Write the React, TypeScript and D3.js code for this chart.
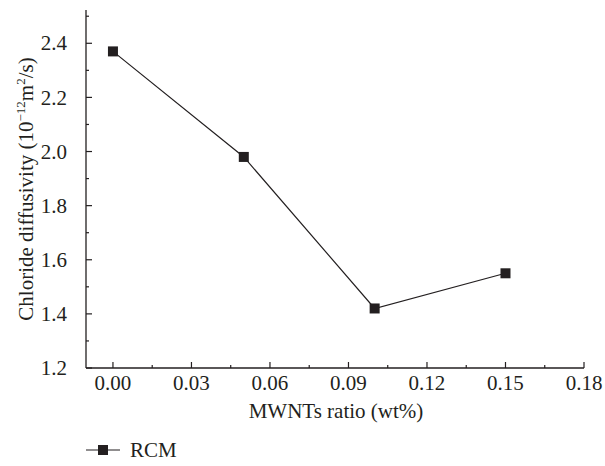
import React, { useEffect, useRef } from 'react';
import * as d3 from 'd3';

const ratios = [0.0, 0.05, 0.1, 0.15];
const diffusivity = [2.37, 1.98, 1.42, 1.55];
const xTicks = [0, 0.03, 0.06, 0.09, 0.12, 0.15, 0.18];
const yTicks = [1.2, 1.4, 1.6, 1.8, 2.0, 2.2, 2.4];
const seriesName = 'RCM';

const ink = '#231f20';
const font = '"Liberation Serif", "DejaVu Serif", serif';
const fs = 21;

function App() {
  const svgRef = useRef<SVGSVGElement>(null);

  useEffect(() => {
    const width = 605;
    const height = 466;
    const margin = { left: 86, top: 10, right: 21, bottom: 98 };

    const svg = d3.select(svgRef.current)
      .attr('width', width)
      .attr('height', height)
      .style('font-family', font);

    const x = d3.scaleLinear()
      .domain([-0.0103, 0.18])
      .range([margin.left, width - margin.right]);
    const y = d3.scaleLinear()
      .domain([1.2, 2.523])
      .range([height - margin.bottom, margin.top]);

    const bottom = height - margin.bottom;

    // axes lines
    svg.append('line')
      .attr('x1', margin.left).attr('x2', width - margin.right)
      .attr('y1', bottom).attr('y2', bottom)
      .attr('stroke', ink).attr('stroke-width', 1.3);
    svg.append('line')
      .attr('x1', margin.left).attr('x2', margin.left)
      .attr('y1', margin.top).attr('y2', bottom)
      .attr('stroke', ink).attr('stroke-width', 1.3);

    // x ticks (inward), plus minor ones
    const xMinor = xTicks.slice(0, -1).map(t => t + 0.015);
    svg.append('g').selectAll('line')
      .data(xTicks)
      .join('line')
      .attr('x1', d => x(d)).attr('x2', d => x(d))
      .attr('y1', bottom).attr('y2', bottom - 6)
      .attr('stroke', ink).attr('stroke-width', 1.2);
    svg.append('g').selectAll('line')
      .data(xMinor)
      .join('line')
      .attr('x1', d => x(d)).attr('x2', d => x(d))
      .attr('y1', bottom).attr('y2', bottom - 3)
      .attr('stroke', ink).attr('stroke-width', 1.2);
    svg.append('g').selectAll('text')
      .data(xTicks)
      .join('text')
      .attr('x', d => x(d))
      .attr('y', bottom + 22)
      .attr('text-anchor', 'middle')
      .attr('font-size', fs)
      .attr('fill', ink)
      .text(d => d3.format('.2f')(d));

    // y ticks
    const yMinor = yTicks.map(t => t + 0.1);
    svg.append('g').selectAll('line')
      .data(yTicks)
      .join('line')
      .attr('y1', d => y(d)).attr('y2', d => y(d))
      .attr('x1', margin.left).attr('x2', margin.left + 6)
      .attr('stroke', ink).attr('stroke-width', 1.2);
    svg.append('g').selectAll('line')
      .data(yMinor)
      .join('line')
      .attr('y1', d => y(d)).attr('y2', d => y(d))
      .attr('x1', margin.left).attr('x2', margin.left + 3)
      .attr('stroke', ink).attr('stroke-width', 1.2);
    svg.append('g').selectAll('text')
      .data(yTicks)
      .join('text')
      .attr('x', margin.left - 19)
      .attr('y', d => y(d))
      .attr('dy', '0.34em')
      .attr('text-anchor', 'end')
      .attr('font-size', fs)
      .attr('fill', ink)
      .text(d => d3.format('.1f')(d));

    // axis titles
    svg.append('text')
      .attr('x', (margin.left + width - margin.right) / 2 + 1)
      .attr('y', bottom + 50)
      .attr('text-anchor', 'middle')
      .attr('font-size', fs)
      .attr('fill', ink)
      .text('MWNTs ratio (wt%)');

    const yTitle = svg.append('text')
      .attr('transform', `translate(33,${(margin.top + bottom) / 2}) rotate(-90)`)
      .attr('text-anchor', 'middle')
      .attr('font-size', fs)
      .attr('fill', ink);
    yTitle.append('tspan').text('Chloride diffusivity (10');
    yTitle.append('tspan').attr('font-size', 13).attr('dy', -8).text('−12');
    yTitle.append('tspan').attr('dy', 8).text('m');
    yTitle.append('tspan').attr('font-size', 13).attr('dy', -8).text('2');
    yTitle.append('tspan').attr('dy', 8).text('/s)');

    // data line and markers
    const pts = ratios.map((r, i) => [r, diffusivity[i]] as [number, number]);
    const line = d3.line<[number, number]>()
      .x(d => x(d[0]))
      .y(d => y(d[1]));
    svg.append('path')
      .datum(pts)
      .attr('d', line)
      .attr('fill', 'none')
      .attr('stroke', ink)
      .attr('stroke-width', 1.2);
    svg.append('g').selectAll('rect')
      .data(pts)
      .join('rect')
      .attr('x', d => x(d[0]) - 5)
      .attr('y', d => y(d[1]) - 5)
      .attr('width', 10)
      .attr('height', 10)
      .attr('fill', ink);

    // legend
    const ly = 450;
    svg.append('line')
      .attr('x1', 86).attr('x2', 120)
      .attr('y1', ly).attr('y2', ly)
      .attr('stroke', ink).attr('stroke-width', 1.2);
    svg.append('rect')
      .attr('x', 98).attr('y', ly - 5)
      .attr('width', 10).attr('height', 10)
      .attr('fill', ink);
    svg.append('text')
      .attr('x', 130)
      .attr('y', ly)
      .attr('dy', '0.34em')
      .attr('font-size', fs)
      .attr('fill', ink)
      .text(seriesName);

    return () => {
      svg.selectAll('*').remove();
    };
  }, []);

  return (
    <div style={{ position: 'absolute', left: 0, top: 0 }}>
      <svg ref={svgRef}></svg>
    </div>
  );
}

export default App;
